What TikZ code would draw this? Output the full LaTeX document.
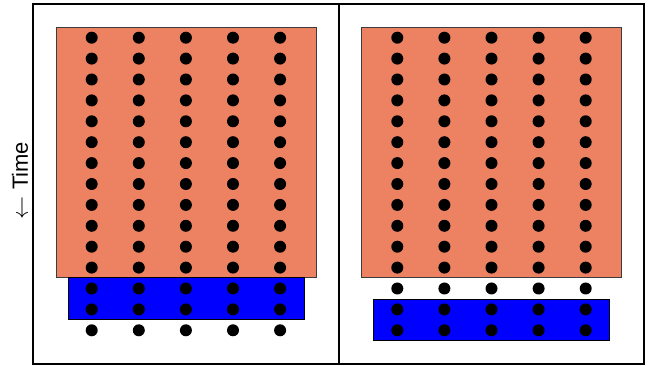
\documentclass[tikz,border=0pt]{standalone}
\usepackage{fontspec}
\setsansfont{Liberation Sans}
\usetikzlibrary{positioning}

\definecolor{salmonfill}{RGB}{237,130,98}
\definecolor{edgegrey}{RGB}{60,60,60}

\begin{document}
\begin{tikzpicture}[x=0.75pt,y=-0.75pt,
	dot/.style={circle,fill=black,inner sep=0pt,minimum size=9pt},
	oldbox/.style={draw=edgegrey,line width=0.75pt,fill=salmonfill},
	newbox/.style={draw=black,line width=0.75pt,fill=blue},
	frame/.style={draw=black,line width=1.5pt}]
	\useasboundingbox (0,0) rectangle (651,366);
	\draw[frame] (33,4) rectangle (644,364.5);
	\draw[frame] (338.5,4)--(338.5,364.5);
	\node[rotate=90,font=\sffamily\fontsize{16.5}{19}\selectfont] (time) at (20,180.5) {$\leftarrow$ Time};
	\draw[oldbox] (56,27.5) rectangle (316,278);
	\draw[newbox] (68,278) rectangle (304,320);
	\draw[oldbox] (361.7,27.5) rectangle (621.7,278);
	\draw[newbox] (373.3,299.3) rectangle (609.7,340.7);
	\foreach \r in {0,...,14}
		\foreach \c in {0,...,4} {
			\node[dot] (l-\r-\c) at (91.7+47.1*\c,37.7+20.9*\r) {};
			\node[dot] (r-\r-\c) at (397.3+47.1*\c,37.7+20.9*\r) {};
		}
\end{tikzpicture}
\end{document}
